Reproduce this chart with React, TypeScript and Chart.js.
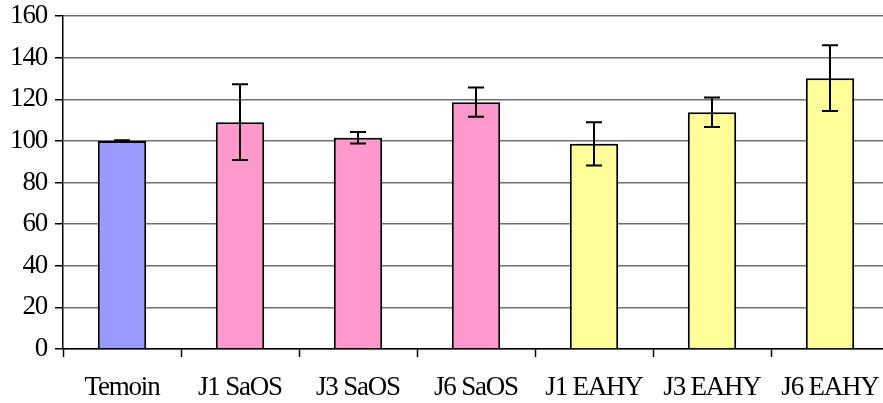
import React, { useEffect, useRef } from "react";
import { Chart, registerables } from "chart.js";

Chart.register(...registerables);

const categories = ["Temoin", "J1 SaOS", "J3 SaOS", "J6 SaOS", "J1 EAHY", "J3 EAHY", "J6 EAHY"];
const values = [100, 109, 101.5, 118.6, 98.6, 113.8, 130.1];
const errors = [0.3, 18.2, 2.8, 7.0, 10.4, 7.1, 15.8];
const barColors = ["#9999FF", "#FF99CC", "#FF99CC", "#FF99CC", "#FFFF99", "#FFFF99", "#FFFF99"];
const yTicks = { min: 0, max: 160, step: 20 };

const letterSpacingPlugin = {
  id: "tightText",
  beforeDraw(chart: any) {
    (chart.ctx as any).letterSpacing = "-1.2px";
  },
  afterDraw(chart: any) {
    (chart.ctx as any).letterSpacing = "0px";
  },
};

const errorBarPlugin = {
  id: "errorBars",
  afterDatasetsDraw(chart: any) {
    const { ctx } = chart;
    const meta = chart.getDatasetMeta(0);
    const y = chart.scales.y;
    ctx.save();
    ctx.strokeStyle = "#000";
    ctx.lineWidth = 2;
    meta.data.forEach((bar: any, i: number) => {
      const x = bar.x;
      const top = y.getPixelForValue(values[i] + errors[i]);
      const bot = y.getPixelForValue(values[i] - errors[i]);
      const half = 8;
      ctx.beginPath();
      ctx.moveTo(x, top);
      ctx.lineTo(x, bot);
      ctx.moveTo(x - half, top);
      ctx.lineTo(x + half, top);
      ctx.moveTo(x - half, bot);
      ctx.lineTo(x + half, bot);
      ctx.stroke();
    });
    ctx.restore();
  },
};

export default function App() {
  const ref = useRef<HTMLCanvasElement>(null);
  useEffect(() => {
    document.body.style.margin = "0";
    const font = { family: "'Liberation Serif', 'Times New Roman', serif", size: 27 };
    const chart = new Chart(ref.current!, {
      type: "bar",
      data: {
        labels: categories,
        datasets: [
          {
            data: values,
            backgroundColor: barColors,
            borderColor: "#000",
            borderWidth: 2,
            barPercentage: 0.41,
            categoryPercentage: 1,
          },
        ],
      },
      options: {
        animation: false,
        responsive: false,
        maintainAspectRatio: false,
        layout: { padding: { top: 0, right: 0, left: 0, bottom: 0 } },
        plugins: { legend: { display: false }, tooltip: { enabled: false } },
        scales: {
          x: {
            grid: {
              offset: true,
              drawOnChartArea: false,
              tickLength: 8,
              tickColor: "#000",
              tickWidth: 1.5,
            },
            border: { color: "#000", width: 1.5 },
            ticks: { color: "#000", font, padding: 15, maxRotation: 0 },
            afterFit: (s: any) => {
              s.height = 54;
              s.paddingLeft = 0;
              s.paddingRight = 0;
            },
          },
          y: {
            min: yTicks.min,
            max: yTicks.max,
            grid: { color: "#707070", lineWidth: 1.5, tickLength: 8, tickColor: "#000", tickWidth: 1.5 },
            border: { color: "#000", width: 1.5 },
            ticks: { stepSize: yTicks.step, color: "#000", font, padding: 8 },
            afterFit: (s: any) => {
              s.width = 63;
              s.paddingTop = 16;
              s.paddingBottom = 0;
            },
          },
        },
      },
      plugins: [letterSpacingPlugin, errorBarPlugin],
    });
    return () => chart.destroy();
  }, []);
  return (
    <div style={{ position: "fixed", left: 0, top: 0, width: 883, height: 403, overflow: "hidden", background: "#fff" }}>
      <canvas ref={ref} width={889} height={403} style={{ display: "block" }} />
    </div>
  );
}
